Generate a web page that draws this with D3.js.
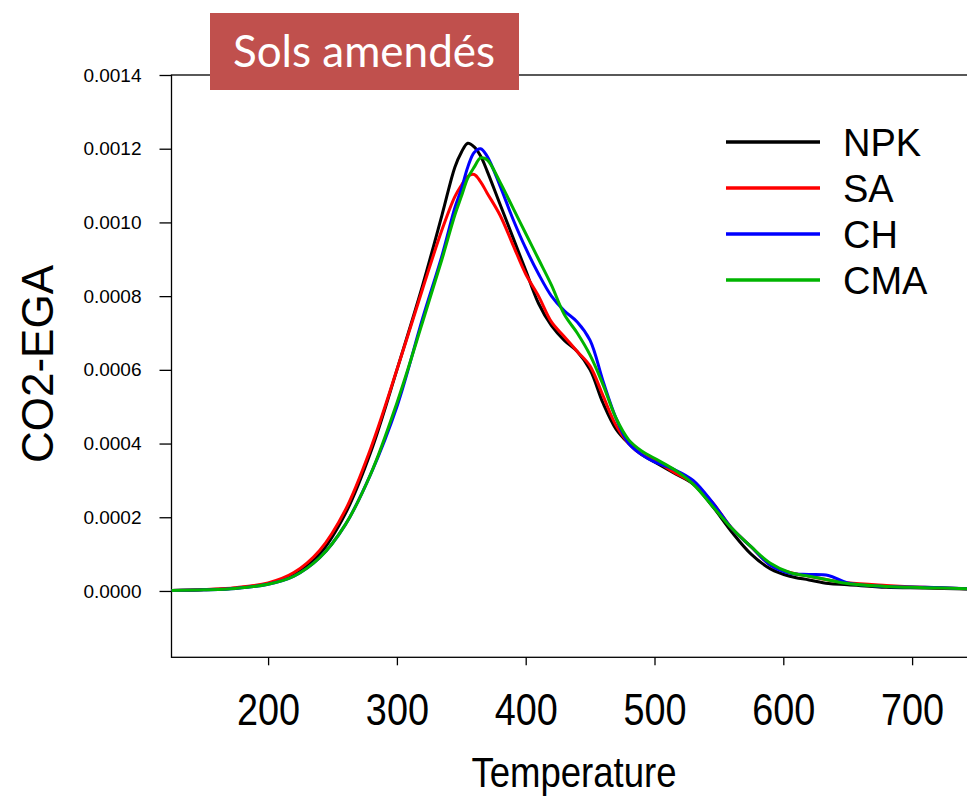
<!DOCTYPE html>
<html>
<head>
<meta charset="utf-8">
<script src="https://cdn.jsdelivr.net/npm/d3@7"></script>
<style>
  body { margin: 0; background: #fff; }
  svg { display: block; }
</style>
</head>
<body>
<div id="chart"></div>
<script>
var temps = [125,150,175,200,220,240,260,280,300,320,335,345,350,355,360,365,370,380,390,400,410,420,430,440,450,460,470,480,490,500,515,530,545,560,575,590,605,620,635,650,680,710,745];

var npk = [0.000001,0.000003,0.000008,0.00002,0.000045,0.0001,0.00021,0.00038,0.0006,0.00083,0.00102,0.00115,0.00119,0.001215,0.001205,0.00118,0.00114,0.00105,0.00096,0.00087,0.00078,0.00072,0.00068,0.00065,0.0006,0.00051,0.00044,0.0004,0.00037,0.00035,0.00032,0.00029,0.00023,0.00016,0.0001,0.00006,0.00004,0.00003,0.00002,0.000017,0.00001,0.000008,0.000005];
var sa = [0.000001,0.000004,0.000009,0.000022,0.00005,0.00011,0.00022,0.00039,0.0006,0.00082,0.00098,0.00107,0.0011,0.001125,0.00113,0.00111,0.00108,0.00102,0.00094,0.00086,0.0008,0.00073,0.00069,0.00065,0.00061,0.00053,0.00045,0.0004,0.00037,0.000355,0.000322,0.000292,0.00024,0.00017,0.00012,0.00007,0.00005,0.00004,0.00003,0.000022,0.000015,0.00001,0.000006];
var ch = [0.000001,0.000003,0.000007,0.000018,0.00004,0.00009,0.00018,0.00032,0.0005,0.00074,0.00091,0.00104,0.00109,0.00115,0.00119,0.0012,0.00118,0.0011,0.00101,0.00093,0.00086,0.0008,0.00076,0.00073,0.00068,0.00057,0.00047,0.0004,0.00037,0.00035,0.00033,0.0003,0.00024,0.00017,0.00012,0.00007,0.000048,0.000045,0.000042,0.000022,0.000012,0.00001,0.000006];
var cma = [0.000001,0.000003,0.000007,0.000018,0.00004,0.00009,0.00018,0.00032,0.00051,0.00073,0.0009,0.00102,0.00107,0.00112,0.00115,0.001175,0.00117,0.00111,0.00104,0.00097,0.0009,0.00083,0.00075,0.0007,0.00064,0.00056,0.00047,0.00041,0.00038,0.00036,0.00033,0.00029,0.00023,0.00017,0.00012,0.000075,0.00005,0.00004,0.00003,0.00002,0.000012,0.000009,0.000006];

var seriesNames = ["NPK", "SA", "CH", "CMA"];
var seriesColors = ["#000000", "#ff0000", "#0000ff", "#00b400"];
var xTicks = [200, 300, 400, 500, 600, 700];
var yTicks = [0, 0.0002, 0.0004, 0.0006, 0.0008, 0.0010, 0.0012, 0.0014];

(function() {
  var margin = { top: 75, left: 171.5, right: 0, bottom: 0 },
    width = 805,
    height = 582.3;

  var svg = d3.select("#chart")
    .append("svg")
    .attr("width", 967)
    .attr("height", 797)
    .append("g")
    .attr("transform", "translate(" + margin.left + "," + margin.top + ")");

  var xPositionScale = d3.scaleLinear().domain([125, 750]).range([0, width]);
  var yPositionScale = d3.scaleLinear().domain([-0.00018, 0.0014]).range([height, 0]);

  var line = d3.line()
    .x(function(d) { return xPositionScale(d.t); })
    .y(function(d) { return yPositionScale(d.v); })
    .curve(d3.curveCatmullRom.alpha(0.5));

  var allSeries = [npk, sa, ch, cma].map(function(vals, i) {
    return {
      name: seriesNames[i],
      color: seriesColors[i],
      points: vals.map(function(v, j) { return { t: temps[j], v: v }; })
    };
  });

  // frame
  svg.append("rect")
    .attr("x", 0)
    .attr("y", 0)
    .attr("width", width)
    .attr("height", height)
    .attr("fill", "none")
    .attr("stroke", "#000")
    .attr("stroke-width", 1.3);

  svg.selectAll(".curve")
    .data(allSeries)
    .enter().append("path")
      .attr("class", "curve")
      .attr("d", function(d) { return line(d.points); })
      .attr("fill", "none")
      .attr("stroke", function(d) { return d.color; })
      .attr("stroke-width", 3);

  // axes
  var yAxis = d3.axisLeft(yPositionScale)
    .tickValues(yTicks)
    .tickSize(12)
    .tickPadding(18)
    .tickFormat(d3.format(".4f"));
  var yg = svg.append("g").attr("class", "axis y-axis").call(yAxis);
  yg.select(".domain").remove();
  yg.selectAll("text")
    .style("font-family", "'Liberation Sans', Arial, sans-serif")
    .style("font-size", "19px")
    .attr("fill", "#000");
  yg.selectAll("line").attr("stroke", "#000").attr("stroke-width", 1.3);

  var xAxis = d3.axisBottom(xPositionScale)
    .tickValues(xTicks)
    .tickSize(8)
    .tickPadding(28)
    .tickFormat(d3.format("d"));
  var xg = svg.append("g")
    .attr("class", "axis x-axis")
    .attr("transform", "translate(0," + height + ")")
    .call(xAxis);
  xg.select(".domain").remove();
  xg.selectAll("text")
    .style("font-family", "'Liberation Sans', Arial, sans-serif")
    .style("font-size", "44px")
    .attr("transform", "scale(0.86,1)")
    .attr("fill", "#000");
  xg.selectAll("line").attr("stroke", "#000").attr("stroke-width", 1.3);

  // axis titles
  svg.append("text")
    .attr("transform", "translate(" + (574 - margin.left) + "," + (787 - margin.top) + ") scale(0.87,1)")
    .attr("text-anchor", "middle")
    .style("font-family", "'Liberation Sans', Arial, sans-serif")
    .style("font-size", "42px")
    .text("Temperature");

  svg.append("text")
    .attr("transform", "translate(" + (53 - margin.left) + "," + (364 - margin.top) + ") rotate(-90)")
    .attr("text-anchor", "middle")
    .style("font-family", "'Liberation Sans', Arial, sans-serif")
    .style("font-size", "44px")
    .text("CO2-EGA");

  // legend
  var legend = svg.selectAll(".legend")
    .data(allSeries)
    .enter().append("g")
      .attr("class", "legend")
      .attr("transform", function(d, i) {
        return "translate(" + (726 - margin.left) + "," + (142 + i * 46 - margin.top) + ")";
      });
  legend.append("line")
    .attr("x1", 0).attr("x2", 94)
    .attr("y1", 0).attr("y2", 0)
    .attr("stroke", function(d) { return d.color; })
    .attr("stroke-width", 3.5);
  legend.append("text")
    .attr("x", 117)
    .attr("y", 0)
    .attr("dy", "0.36em")
    .style("font-family", "'Liberation Sans', Arial, sans-serif")
    .style("font-size", "38px")
    .text(function(d) { return d.name; });

  // title box over the top of the frame
  svg.append("rect")
    .attr("x", 210 - margin.left)
    .attr("y", 13 - margin.top)
    .attr("width", 309)
    .attr("height", 77)
    .attr("fill", "#c0504d");
  svg.append("text")
    .attr("x", 364 - margin.left)
    .attr("y", 67 - margin.top)
    .attr("text-anchor", "middle")
    .attr("fill", "#fff")
    .style("font-family", "Lato, 'Open Sans', sans-serif")
    .style("font-size", "44px")
    .text("Sols amendés");
})();
</script>
</body>
</html>
